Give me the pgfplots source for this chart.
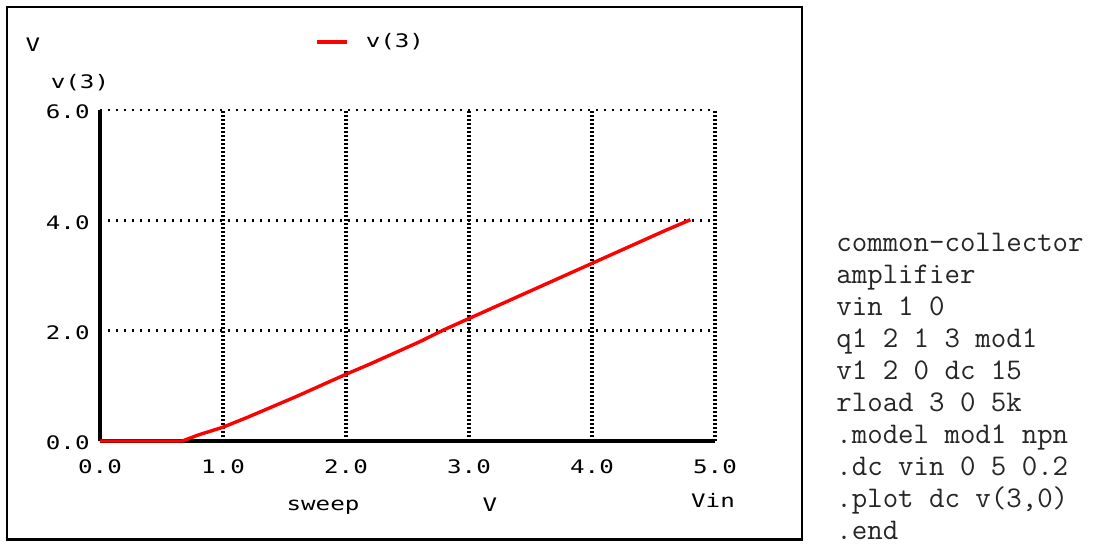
\documentclass[border=0pt]{standalone}
\usepackage{fontspec}
\usepackage{pgfplots}
\pgfplotsset{compat=1.18}
\newfontfamily\pixfont[FakeStretch=1.3]{DejaVu Sans Mono}
\definecolor{spred}{RGB}{255,0,0}
\newcommand{\pf}{\pixfont\fontsize{9.3}{10}\selectfont}
\begin{document}
\begin{tikzpicture}
\useasboundingbox (0,0) rectangle (547pt,-272pt);
\fill[white] (0,0) rectangle (547pt,-272pt);
\draw[line width=1.3pt] (3.5pt,-3.5pt) rectangle (401pt,-269.8pt);
\begin{axis}[
  at={(50pt,-220.5pt)}, anchor=south west,
  scale only axis, width=307.5pt, height=165.5pt,
  xmin=0, xmax=5, ymin=0, ymax=6,
  xtick={0,1,2,3,4,5}, ytick={0,2,4,6},
  axis lines=left,
  axis line style={-, line width=2pt, black},
  grid=major,
  x grid style={black, line width=1.6pt, dash pattern=on 1pt off 1pt},
  y grid style={black, line width=1.2pt, dash pattern=on 1pt off 3pt},
  major tick length=0pt,
  clip=false,
  /pgf/number format/assume math mode=true,
  /pgf/number format/fixed, /pgf/number format/fixed zerofill,
  /pgf/number format/precision=1,
  xticklabel style={font=\pf, anchor=center, yshift=-13pt},
  yticklabel style={font=\pf, anchor=east, inner sep=0pt, xshift=-5pt, yshift=-1pt},
  legend style={at={(axis description cs:0.3496,1.205)}, anchor=west, draw=none, fill=none,
    inner sep=0pt, font=\pf, nodes={inner sep=0pt}},
  legend image code/.code={\draw[#1] (0pt,0pt) -- (15pt,0pt); \path (23.5pt,0pt);},
]
\addplot[spred, line width=1.7pt] coordinates {
(0.0,0) (0.2,0) (0.4,0) (0.6,0) (0.67,0.0) (0.8,0.11) (1.0,0.25) (1.2,0.43) (1.4,0.62) (1.6,0.81)
(1.8,1.01) (2.0,1.21) (2.2,1.40) (2.4,1.60) (2.6,1.80) (2.8,2.02) (3.0,2.22)
(3.2,2.42) (3.4,2.62) (3.6,2.82) (3.8,3.02) (4.0,3.22) (4.2,3.42) (4.4,3.62)
(4.6,3.82) (4.8,4.01)
};
\addlegendentry{v(3)}
\end{axis}
\node[font=\pf, inner sep=0pt] at (16.5pt,-22.5pt) {V};
\node[font=\pf, inner sep=0pt] at (40pt,-41.5pt) {v(3)};
\node[font=\pf, inner sep=0pt] at (161.5pt,-253.5pt) {sweep};
\node[font=\pf, inner sep=0pt] at (245pt,-252.5pt) {V};
\node[font=\pf, inner sep=0pt] at (356.5pt,-250pt) {Vin};
\foreach \t [count=\i from 0] in {common-collector,amplifier,vin 1 0,q1 2 1 3 mod1,v1 2 0 dc 15,rload 3 0 5k,.model mod1 npn,.dc vin 0 5 0.2,{.plot dc v(3,0)},.end}{
  \node[font=\ttfamily\fontsize{15}{16}\selectfont, text=black!85, inner sep=0pt, anchor=base west] at (418pt,{-126pt-16pt*\i}) {\t};
}
\end{tikzpicture}
\end{document}
